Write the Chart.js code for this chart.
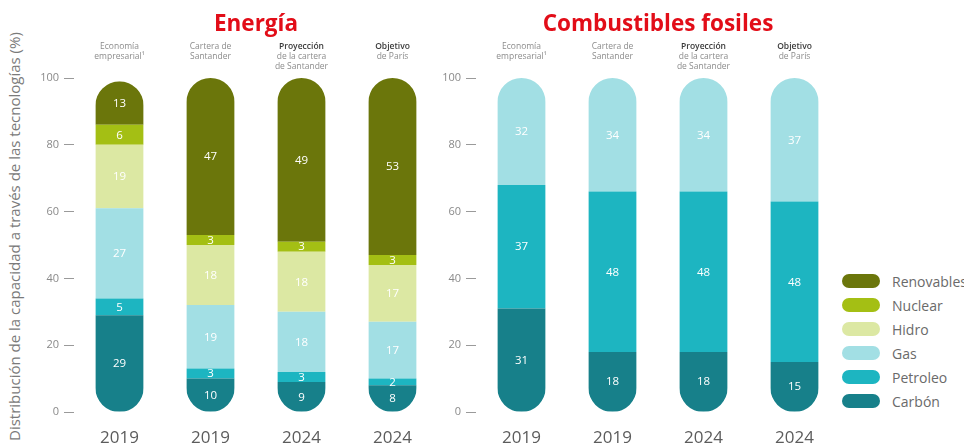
<!DOCTYPE html>
<html lang="es">
<head>
<meta charset="utf-8">
<title>Distribución de la capacidad</title>
<script src="https://cdn.jsdelivr.net/npm/chart.js@4.4.1/dist/chart.umd.min.js"></script>
<style>
  html, body { margin: 0; padding: 0; background: #fff; }
  body { width: 964px; height: 446px; overflow: hidden; position: relative; font-family: "Open Sans", sans-serif; }
  .panel { position: absolute; top: 0; }
  #energiaWrap { left: 0; }
  #fosilWrap { left: 438px; }
  #yTitle {
    position: absolute; left: 4px; top: 441px;
    transform: rotate(-90deg); transform-origin: 0 0;
    white-space: nowrap; font-size: 15px; line-height: 20px; color: #7a7a7a;
  }
  #legend { position: absolute; left: 842px; top: 269px; }
  .legend-item { display: flex; align-items: center; height: 24px; white-space: nowrap; }
  .legend-box { width: 38px; height: 14px; border-radius: 7px; margin-right: 12px; }
  .legend-text { font-size: 14px; color: #6a6a6a; }
</style>
</head>
<body>
<div id="yTitle">Distribución de la capacidad a través de las tecnologías (%)</div>
<div class="panel" id="energiaWrap"><canvas id="energiaChart" width="440" height="446"></canvas></div>
<div class="panel" id="fosilWrap"><canvas id="fosilChart" width="404" height="446"></canvas></div>
<div id="legend"></div>

<script>
// x categories and the labels printed above each column
const years = ['2019', '2019', '2024', '2024'];
const columnHeaders = [
  ['Economía', 'empresarial¹'],
  ['Cartera de', 'Santander'],
  ['Proyección', 'de la cartera', 'de Santander'],
  ['Objetivo', 'de París']
];
const boldHeaderIdx = [2, 3];

// y axis
const yMin = 0;
const yMax = 100;
const yStep = 20;

// Energía (%), bottom to top
const energiaCarbon = [29, 10, 9, 8];
const energiaPetroleo = [5, 3, 3, 2];
const energiaGas = [27, 19, 18, 17];
const energiaHidro = [19, 18, 18, 17];
const energiaNuclear = [6, 3, 3, 3];
const energiaRenovables = [13, 47, 49, 53];

// Combustibles fosiles (%), bottom to top
const fosilCarbon = [31, 18, 18, 15];
const fosilPetroleo = [37, 48, 48, 48];
const fosilGas = [32, 34, 34, 37];

// legend, top to bottom
const techNames = ['Renovables', 'Nuclear', 'Hidro', 'Gas', 'Petroleo', 'Carbón'];

const techColors = {
  'Renovables': '#6b760b',
  'Nuclear': '#a4bf14',
  'Hidro': '#dce8a3',
  'Gas': '#a2dfe4',
  'Petroleo': '#1db5c1',
  'Carbón': '#17808a'
};

const FONT = '"Open Sans", sans-serif';
const RED = '#e20d18';

function series(label, data) {
  return {
    label: label,
    data: data,
    backgroundColor: techColors[label],
    borderWidth: 0,
    borderSkipped: false,
    barPercentage: 0.53,
    categoryPercentage: 1
  };
}

// clips every stacked column to a pill shape, then writes the segment values
const pillBars = {
  id: 'pillBars',
  beforeDatasetsDraw(chart) {
    const { ctx } = chart;
    const y = chart.scales.y;
    const meta = chart.getDatasetMeta(0);
    ctx.save();
    ctx.beginPath();
    meta.data.forEach((bar, i) => {
      const total = chart.data.datasets.reduce((s, ds) => s + ds.data[i], 0);
      const w = bar.width;
      const top = y.getPixelForValue(total);
      const bottom = y.getPixelForValue(0);
      ctx.roundRect(bar.x - w / 2, top, w, bottom - top, w / 2);
    });
    ctx.clip();
  },
  afterDatasetsDraw(chart) {
    const { ctx } = chart;
    ctx.restore();
    ctx.save();
    ctx.fillStyle = '#ffffff';
    ctx.font = '11.5px ' + FONT;
    ctx.textAlign = 'center';
    ctx.textBaseline = 'middle';
    chart.data.datasets.forEach((ds, d) => {
      chart.getDatasetMeta(d).data.forEach((bar, i) => {
        if (!ds.data[i]) return;
        ctx.fillText(String(ds.data[i]), bar.x, (bar.y + bar.base) / 2 + 0.5);
      });
    });
    ctx.restore();
  }
};

// small captions above every column
const columnCaptions = {
  id: 'columnCaptions',
  afterDraw(chart) {
    const { ctx } = chart;
    const x = chart.scales.x;
    ctx.save();
    ctx.textAlign = 'center';
    ctx.textBaseline = 'middle';
    columnHeaders.forEach((lines, i) => {
      const cx = x.getPixelForValue(i);
      lines.forEach((line, j) => {
        const bold = j === 0 && boldHeaderIdx.includes(i);
        ctx.font = (bold ? '600 ' : '') + '8.5px ' + FONT;
        ctx.fillStyle = bold ? '#3a3a3a' : '#8c8c8c';
        ctx.fillText(line, cx, 47 + j * 10);
      });
    });
    ctx.restore();
  }
};

function buildOptions(title, yWidth) {
  return {
    responsive: false,
    animation: false,
    layout: { padding: { left: 0, right: 2, top: 0, bottom: 0 } },
    plugins: {
      legend: { display: false },
      tooltip: { enabled: false },
      title: {
        display: true,
        text: title,
        fullSize: false,
        color: RED,
        font: { family: FONT, size: 22.5, weight: 'bold', lineHeight: 1.2 },
        padding: { top: 11, bottom: 40 }
      }
    },
    scales: {
      x: {
        stacked: true,
        grid: { display: false },
        border: { display: false },
        ticks: { color: '#5c5c5c', padding: 8, font: { family: FONT, size: 17 } },
        afterFit(scale) { scale.height = 34; }
      },
      y: {
        stacked: true,
        min: yMin,
        max: yMax,
        border: { display: false },
        grid: { drawOnChartArea: false, drawTicks: true, tickLength: 10, color: '#9a9a9a', tickWidth: 1 },
        ticks: { stepSize: yStep, color: '#8a8a8a', padding: 5, font: { family: FONT, size: 11 } },
        afterFit(scale) { scale.width = yWidth; }
      }
    }
  };
}

new Chart(document.getElementById('energiaChart'), {
  type: 'bar',
  data: {
    labels: years,
    datasets: [
      series('Carbón', energiaCarbon),
      series('Petroleo', energiaPetroleo),
      series('Gas', energiaGas),
      series('Hidro', energiaHidro),
      series('Nuclear', energiaNuclear),
      series('Renovables', energiaRenovables)
    ]
  },
  options: buildOptions('Energía', 74),
  plugins: [pillBars, columnCaptions]
});

new Chart(document.getElementById('fosilChart'), {
  type: 'bar',
  data: {
    labels: years,
    datasets: [
      series('Carbón', fosilCarbon),
      series('Petroleo', fosilPetroleo),
      series('Gas', fosilGas)
    ]
  },
  options: buildOptions('Combustibles fosiles', 38),
  plugins: [pillBars, columnCaptions]
});

// shared legend for both panels
const legendEl = document.getElementById('legend');
techNames.forEach(name => {
  const item = document.createElement('div');
  item.className = 'legend-item';
  item.innerHTML = '<span class="legend-box" style="background:' + techColors[name] + '"></span>' +
    '<span class="legend-text">' + name + '</span>';
  legendEl.appendChild(item);
});
</script>
</body>
</html>
